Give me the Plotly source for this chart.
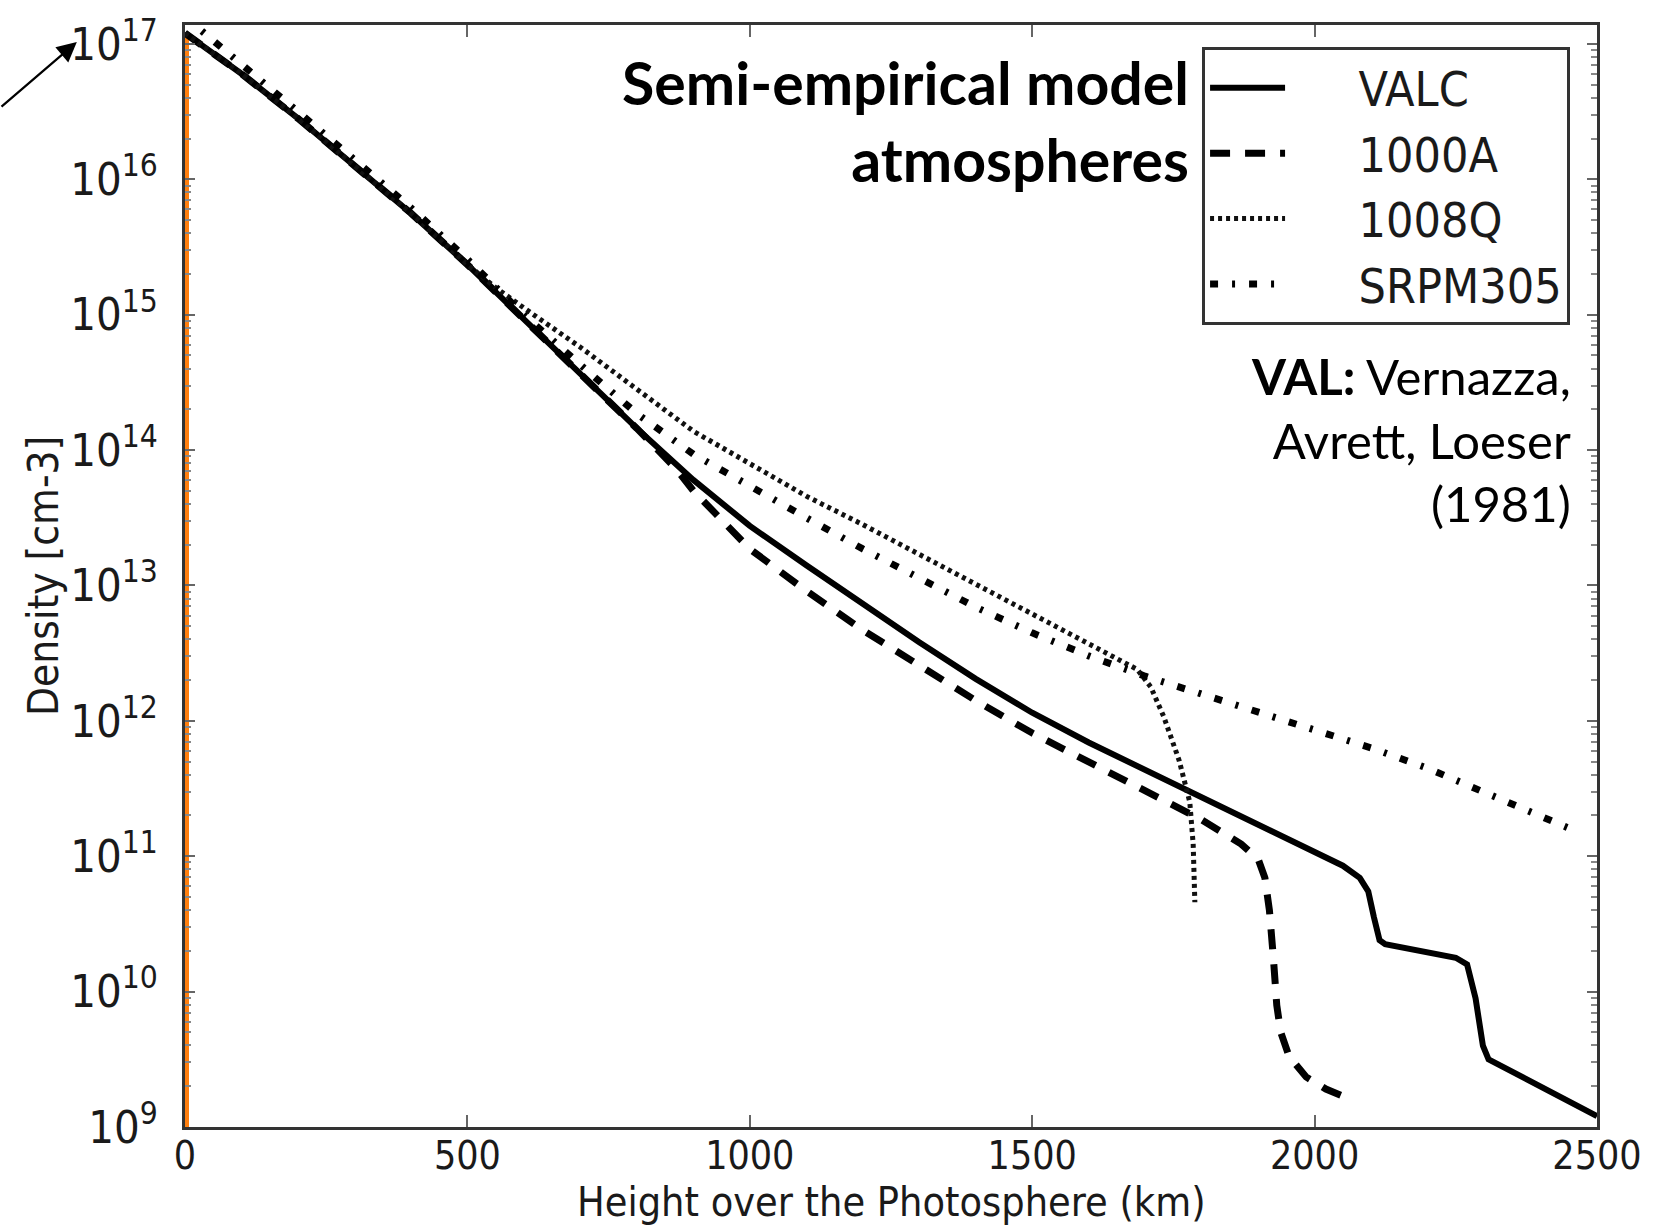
import plotly.graph_objects as go

# ---------------- data ----------------
# heights in km, densities given as log10(n / cm^-3)
valc_height = [0, 100, 200, 300, 400, 500, 600, 700, 800, 900, 1000, 1100, 1200, 1300,
               1400, 1500, 1600, 1700, 1800, 1900, 2000, 2050, 2080, 2095, 2105, 2115,
               2125, 2250, 2270, 2285, 2298, 2308, 2500]
valc_log_density = [17.08, 16.78, 16.45, 16.10, 15.75, 15.37, 14.97, 14.57, 14.16, 13.78,
                    13.44, 13.15, 12.86, 12.58, 12.31, 12.06, 11.84, 11.64, 11.43, 11.23,
                    11.03, 10.93, 10.84, 10.74, 10.55, 10.38, 10.35, 10.25, 10.20, 9.95,
                    9.60, 9.50, 9.08]

a1000_height = [0, 100, 200, 300, 400, 500, 600, 700, 800, 870, 900, 1000, 1100, 1200,
                1300, 1400, 1500, 1600, 1700, 1800, 1870, 1900, 1912, 1920, 1927, 1933,
                1940, 1955, 1985, 2020, 2060]
a1000_log_density = [17.08, 16.78, 16.45, 16.10, 15.75, 15.37, 14.97, 14.57, 14.16, 13.86,
                     13.70, 13.27, 12.96, 12.67, 12.41, 12.15, 11.91, 11.70, 11.49, 11.27,
                     11.09, 10.98, 10.84, 10.60, 10.25, 9.90, 9.70, 9.52, 9.37, 9.28, 9.21]

q1008_height = [0, 100, 200, 300, 400, 500, 550, 600, 700, 800, 900, 1000, 1100, 1200,
                1300, 1400, 1500, 1600, 1686, 1710, 1733, 1760, 1779, 1785, 1788]
q1008_log_density = [17.08, 16.78, 16.45, 16.10, 15.75, 15.37, 15.20, 15.05, 14.76, 14.45,
                     14.14, 13.90, 13.66, 13.45, 13.23, 13.01, 12.79, 12.57, 12.38, 12.25,
                     12.03, 11.71, 11.40, 11.09, 10.66]

srpm_height = [0, 50, 100, 200, 300, 400, 500, 600, 700, 800, 900, 1000, 1100, 1200, 1300,
               1400, 1500, 1600, 1700, 1800, 1900, 2000, 2100, 2200, 2300, 2400, 2460]
srpm_log_density = [17.20, 17.02, 16.85, 16.50, 16.14, 15.79, 15.41, 15.00, 14.63, 14.27,
                    13.97, 13.73, 13.50, 13.27, 13.05, 12.84, 12.65, 12.48, 12.33, 12.20,
                    12.07, 11.94, 11.80, 11.65, 11.47, 11.29, 11.19]

photosphere_height = [0, 0]
photosphere_log_density = [9.0, 17.05]

series_names = ["VALC", "1000A", "1008Q", "SRPM305"]
x_tick_values = [0, 500, 1000, 1500, 2000, 2500]


def dens(logs):
    return [10 ** v for v in logs]


NB = "\u00a0"
fig = go.Figure()

fig.add_trace(go.Scatter(x=photosphere_height, y=dens(photosphere_log_density),
                         mode="lines", line=dict(color="#ff7f0e", width=8),
                         showlegend=False, hoverinfo="skip"))

fig.add_trace(go.Scatter(x=valc_height, y=dens(valc_log_density), mode="lines",
                         name=NB * 5 + series_names[0], legendgroup="a",
                         line=dict(color="black", width=6, dash="solid")))
fig.add_trace(go.Scatter(x=a1000_height, y=dens(a1000_log_density), mode="lines",
                         name=NB * 5 + series_names[1], legendgroup="b",
                         line=dict(color="black", width=7, dash="20px,15px")))
fig.add_trace(go.Scatter(x=q1008_height, y=dens(q1008_log_density), mode="lines",
                         name=NB * 5 + series_names[2], legendgroup="c",
                         line=dict(color="#111111", width=5, dash="4px,4px")))
fig.add_trace(go.Scatter(x=srpm_height, y=dens(srpm_log_density), mode="lines",
                         name=NB * 5 + series_names[3], legendgroup="d",
                         line=dict(color="black", width=7, dash="8px,14px,3px,14px")))

COND = "DejaVu Sans Condensed, DejaVu Sans"
x_tick_font = dict(family=COND, size=39, color="#1a1a1a")
y_tick_font = dict(family=COND, size=36, color="#1a1a1a")

fig.update_xaxes(range=[0, 2500], tickvals=x_tick_values, ticks="inside", ticklen=12,
                 tickwidth=2, tickcolor="#666", showline=True, linewidth=3,
                 linecolor="#333", mirror="allticks", showgrid=False, zeroline=False,
                 tickfont=x_tick_font, ticklabelstandoff=-8)
fig.update_yaxes(type="log", range=[9, 17.14], dtick=1, exponentformat="power",
                 ticks="inside", ticklen=10, tickwidth=2, tickcolor="#666",
                 minor=dict(ticks="inside", ticklen=6, tickwidth=1.5, tickcolor="#888"),
                 showline=True, linewidth=3, linecolor="#333", mirror="allticks",
                 showgrid=False, zeroline=False, tickfont=y_tick_font, ticklabelstandoff=17)

fig.update_layout(
    width=1654, height=1229,
    margin=dict(l=185, r=46, t=25, b=102),
    plot_bgcolor="white", paper_bgcolor="white",
    legend=dict(x=0.7203, y=0.98, xanchor="left", yanchor="top",
                bgcolor="white", bordercolor="#333", borderwidth=3,
                font=dict(family=COND, size=48, color="#1a1a1a"),
                tracegroupgap=0, itemwidth=75),
    annotations=[
        dict(text="<b>Semi-empirical model<br>atmospheres</b>", xref="paper", yref="paper",
             x=0.7125, y=0.982, xanchor="right", yanchor="top", align="right",
             showarrow=False, font=dict(family="Lato", size=59, color="black")),
        dict(text="<b>VAL:</b> Vernazza,<br>Avrett, Loeser<br>(1981)", xref="paper",
             yref="paper", x=0.983, y=0.71, xanchor="right", yanchor="top",
             align="right", showarrow=False,
             font=dict(family="Lato", size=49, color="black")),
        dict(text="Height over the Photosphere (km)", xref="paper", yref="paper",
             x=0.5, y=-0.0915, xanchor="center", yanchor="bottom", showarrow=False,
             font=dict(family=COND, size=41, color="#1a1a1a")),
        dict(text="Density [cm-3]", xref="paper", yref="paper", x=-0.1005, y=0.5,
             xanchor="center", yanchor="middle", textangle=-90, showarrow=False,
             font=dict(family=COND, size=42, color="#1a1a1a")),
        dict(text="", xref="paper", yref="paper", x=-0.0766, y=0.9846,
             showarrow=True, arrowhead=2, arrowsize=1.8, arrowwidth=2.2,
             arrowcolor="black", ax=-80, ay=66, standoff=0),
    ],
)

fig.write_html("out.html")
